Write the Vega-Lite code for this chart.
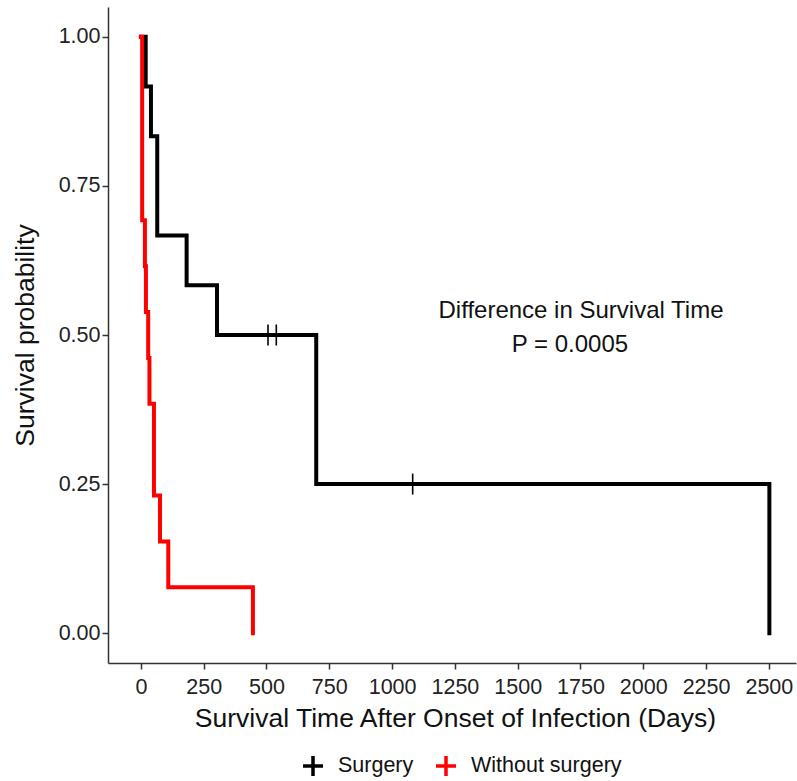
{
  "$schema": "https://vega.github.io/schema/vega-lite/v6.json",
  "width": 688,
  "height": 656,
  "autosize": {"type": "none"},
  "padding": {"left": 108, "top": 7, "right": 1, "bottom": 118},
  "background": "white",
  "datasets": {
    "curves": [
      {"group": "Surgery", "time": 0, "surv": 1.0},
      {"group": "Surgery", "time": 19, "surv": 0.9167},
      {"group": "Surgery", "time": 40, "surv": 0.8333},
      {"group": "Surgery", "time": 65, "surv": 0.6667},
      {"group": "Surgery", "time": 182, "surv": 0.5833},
      {"group": "Surgery", "time": 303, "surv": 0.5},
      {"group": "Surgery", "time": 698, "surv": 0.25},
      {"group": "Surgery", "time": 2502, "surv": 0.0},
      {"group": "Without surgery", "time": 0, "surv": 1.0},
      {"group": "Without surgery", "time": 5, "surv": 0.6923},
      {"group": "Without surgery", "time": 16, "surv": 0.6154},
      {"group": "Without surgery", "time": 20, "surv": 0.5385},
      {"group": "Without surgery", "time": 29, "surv": 0.4615},
      {"group": "Without surgery", "time": 34, "surv": 0.3846},
      {"group": "Without surgery", "time": 52, "surv": 0.2308},
      {"group": "Without surgery", "time": 76, "surv": 0.1538},
      {"group": "Without surgery", "time": 109, "surv": 0.0769},
      {"group": "Without surgery", "time": 446, "surv": 0.0}
    ],
    "censors": [
      {"group": "Surgery", "time": 506, "surv": 0.5},
      {"group": "Surgery", "time": 539, "surv": 0.5},
      {"group": "Surgery", "time": 1082, "surv": 0.25}
    ],
    "notes": [
      {"time": 1752, "surv": 0.5285, "label": "Difference in Survival Time"},
      {"time": 1708, "surv": 0.4715, "label": "P = 0.0005"}
    ]
  },
  "layer": [
    {
      "data": {"name": "curves"},
      "mark": {"type": "line", "interpolate": "step-after", "strokeWidth": 4, "strokeCap": "square", "strokeJoin": "miter"},
      "encoding": {
        "x": {"field": "time", "type": "quantitative",
              "scale": {"domain": [-131, 2608], "nice": false, "zero": false},
              "axis": {"values": [0, 250, 500, 750, 1000, 1250, 1500, 1750, 2000, 2250, 2500], "format": "d",
                       "title": "Survival Time After Onset of Infection (Days)",
                       "titleX": 347, "titleY": 55, "titleBaseline": "middle", "titleAlign": "center"}},
        "y": {"field": "surv", "type": "quantitative",
              "scale": {"domain": [-0.05, 1.05], "nice": false, "zero": false},
              "axis": {"values": [0, 0.25, 0.5, 0.75, 1], "format": ".2f",
                       "title": "Survival probability",
                       "titleX": -83, "titleY": 328, "titleBaseline": "middle", "titleAlign": "center", "titleAngle": -90}},
        "color": {"field": "group", "type": "nominal",
                  "scale": {"domain": ["Surgery", "Without surgery"], "range": ["#000000", "#FF0000"]},
                  "legend": {"title": null, "orient": "none", "direction": "horizontal",
                             "legendX": 193, "legendY": 747,
                             "symbolType": "M-1,0H1M0,-1V1", "symbolSize": 400, "symbolStrokeWidth": 3.5,
                             "labelFontSize": 21.5, "labelOffset": 13, "columnPadding": 15}}
      }
    },
    {
      "data": {"name": "censors"},
      "mark": {"type": "point", "shape": "M0,-1V1", "size": 441, "strokeWidth": 1.6, "filled": false, "opacity": 1},
      "encoding": {
        "x": {"field": "time", "type": "quantitative"},
        "y": {"field": "surv", "type": "quantitative"},
        "color": {"field": "group", "type": "nominal",
                  "legend": {"title": null, "orient": "none", "direction": "horizontal",
                             "legendX": 193, "legendY": 747,
                             "symbolType": "M-1,0H1M0,-1V1", "symbolSize": 400, "symbolStrokeWidth": 3.5,
                             "labelFontSize": 21.5, "labelOffset": 13, "columnPadding": 15}}
      }
    },
    {
      "data": {"name": "notes"},
      "mark": {"type": "text", "fontSize": 24, "font": "Liberation Sans", "color": "#111111", "align": "center", "baseline": "alphabetic"},
      "encoding": {
        "x": {"field": "time", "type": "quantitative"},
        "y": {"field": "surv", "type": "quantitative"},
        "text": {"field": "label"}
      }
    }
  ],
  "config": {
    "view": {"stroke": null},
    "font": "Liberation Sans",
    "axis": {
      "grid": false,
      "domainColor": "#333333", "domainWidth": 1.5,
      "tickColor": "#333333", "tickWidth": 1.5, "tickSize": 6,
      "labelColor": "#222222", "labelFont": "Liberation Sans", "labelFontSize": 21.5,
      "titleColor": "#111111", "titleFont": "Liberation Sans", "titleFontSize": 26.5, "titleFontWeight": "normal"
    },
    "axisX": {"labelPadding": 7},
    "axisY": {"labelPadding": 2},
    "legend": {"labelFont": "Liberation Sans", "labelColor": "#111111", "padding": 0}
  }
}
